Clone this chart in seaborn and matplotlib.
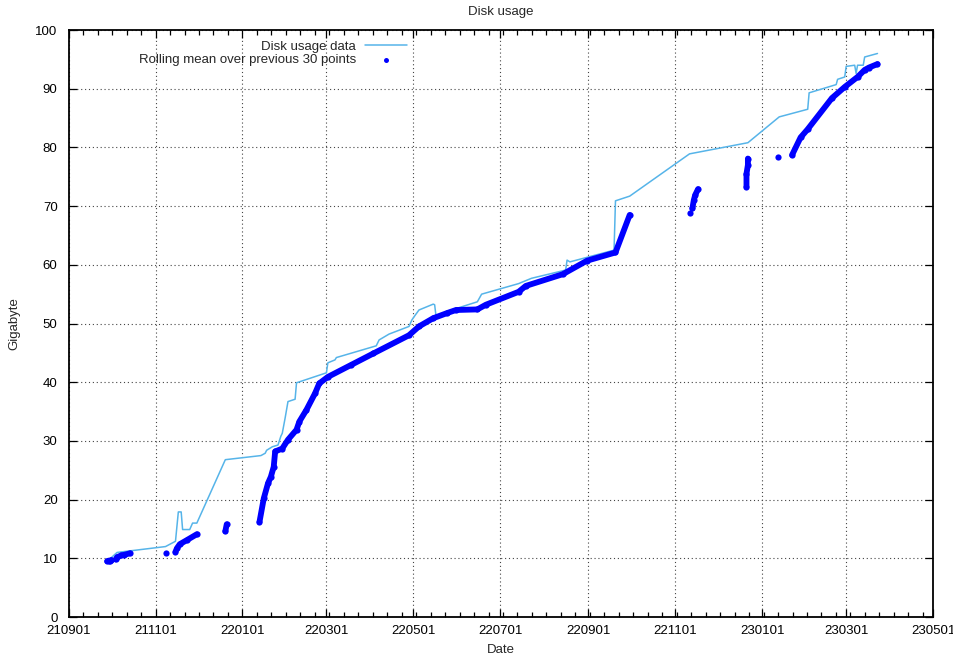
import pandas as pd
import matplotlib.pyplot as plt
import matplotlib.dates as mdates
from matplotlib.ticker import AutoMinorLocator, MultipleLocator
import seaborn as sns

# raw disk usage samples
disk_dates = ['2021-09-29', '2021-10-05', '2021-11-08', '2021-11-15', '2021-11-17', '2021-11-19',
              '2021-11-20', '2021-11-25', '2021-11-27', '2021-11-30', '2021-12-20', '2022-01-14',
              '2022-01-17', '2022-01-18', '2022-01-22', '2022-01-26', '2022-01-28', '2022-01-29',
              '2022-01-31', '2022-02-01', '2022-02-02', '2022-02-07', '2022-02-08', '2022-03-01',
              '2022-03-02', '2022-03-07', '2022-03-08', '2022-04-05', '2022-04-07', '2022-04-14',
              '2022-04-28', '2022-04-30', '2022-05-02', '2022-05-05', '2022-05-15', '2022-05-16',
              '2022-05-17', '2022-05-24', '2022-06-15', '2022-06-18', '2022-07-14', '2022-07-23',
              '2022-08-16', '2022-08-17', '2022-08-19', '2022-09-02', '2022-09-19', '2022-09-20',
              '2022-09-30', '2022-11-11', '2022-12-22', '2023-01-13', '2023-02-02', '2023-02-03',
              '2023-02-22', '2023-02-23', '2023-02-28', '2023-03-01', '2023-03-07', '2023-03-08',
              '2023-03-09', '2023-03-13', '2023-03-14', '2023-03-23']
disk_gb = [9.7, 11.0, 12.0, 12.9, 17.9, 17.9, 14.9, 14.9, 16.0, 16.0,
           26.8, 27.5, 27.9, 28.4, 29.0, 29.3, 30.8, 31.3, 33.9, 35.3,
           36.7, 37.1, 39.9, 41.6, 43.3, 43.8, 44.2, 46.2, 47.2, 48.2,
           49.5, 50.6, 51.3, 52.3, 53.3, 53.2, 51.2, 52.0, 53.7, 55.0,
           56.8, 57.7, 59.1, 60.8, 60.5, 61.4, 62.5, 70.9, 71.7, 78.9,
           80.8, 85.2, 86.5, 89.3, 90.7, 91.6, 92.0, 93.8, 94.0, 92.6,
           94.0, 94.0, 95.4, 96.0]

# rolling mean, split into the runs visible on the chart
roll_dates = ['2021-09-28', '2021-09-29', '2021-09-30', '2021-10-01',
              '2021-10-04', '2021-10-05', '2021-10-08', '2021-10-10', '2021-10-14',
              '2021-11-08',
              '2021-11-15', '2021-11-16', '2021-11-18', '2021-11-23', '2021-11-30',
              '2021-12-20', '2021-12-21',
              '2022-01-13', '2022-01-16', '2022-01-19', '2022-01-21', '2022-01-23', '2022-01-24',
              '2022-01-29', '2022-02-02', '2022-02-08', '2022-02-10', '2022-02-15', '2022-02-21',
              '2022-02-24', '2022-03-02', '2022-03-18', '2022-04-03', '2022-04-28', '2022-05-05',
              '2022-05-15', '2022-05-25', '2022-05-31', '2022-06-15', '2022-06-21', '2022-07-14',
              '2022-07-19', '2022-08-14', '2022-08-31', '2022-09-20', '2022-09-30',
              '2022-11-11',
              '2022-11-13', '2022-11-14', '2022-11-15', '2022-11-17',
              '2022-12-21', '2022-12-21', '2022-12-22', '2022-12-22',
              '2023-01-12',
              '2023-01-22', '2023-01-28', '2023-02-02', '2023-02-19', '2023-02-28', '2023-03-09',
              '2023-03-14', '2023-03-17', '2023-03-23']
roll_gb = [9.5, 9.6, 9.6, 9.7,
           9.8, 10.2, 10.5, 10.6, 10.85,
           10.85,
           11.1, 11.7, 12.4, 13.1, 14.1,
           14.6, 15.8,
           16.2, 20.2, 22.8, 23.9, 25.6, 28.2,
           28.7, 30.2, 31.9, 33.3, 35.3, 38.1,
           39.8, 40.9, 42.9, 44.9, 48.0, 49.5,
           50.9, 51.8, 52.3, 52.4, 53.2, 55.4,
           56.4, 58.4, 60.7, 62.1, 68.5,
           68.9,
           69.6, 71.0, 71.9, 72.9,
           73.3, 75.5, 77.0, 78.1,
           78.3,
           78.7, 81.7, 83.1, 88.4, 90.3, 92.0,
           93.2, 93.6, 94.2]
roll_seg = [0] * 4 + [1] * 5 + [2] + [3] * 5 + [4] * 2 + [5] * 29 + [6] + [7] * 4 + [8] * 4 + [9] + [10] * 9

disk = pd.DataFrame({'date': pd.to_datetime(disk_dates), 'gb': disk_gb})
roll = pd.DataFrame({'date': pd.to_datetime(roll_dates), 'gb': roll_gb, 'seg': roll_seg})

sns.set_style('ticks')
plt.rcParams['font.family'] = ['Liberation Sans', 'DejaVu Sans']
plt.rcParams['font.size'] = 9.5

fig = plt.figure(figsize=(9.54, 6.58), dpi=100)
ax = fig.add_axes([0.072, 0.0623, 0.906, 0.8921])

sns.lineplot(data=disk, x='date', y='gb', color='#56b4e9', lw=1.1, estimator=None, sort=False,
             label='Disk usage data', ax=ax)
sns.lineplot(data=roll, x='date', y='gb', units='seg', estimator=None, sort=False,
             color='#0000ff', lw=4.2, legend=False, ax=ax,
             solid_capstyle='round', solid_joinstyle='round')
sns.scatterplot(data=roll, x='date', y='gb', color='#0000ff', s=20, linewidth=0,
                label='Rolling mean over previous 30 points', ax=ax, zorder=3)

ax.set_xlim(pd.Timestamp('2021-09-01'), pd.Timestamp('2023-05-01'))
ax.set_ylim(0, 100)
ax.xaxis.set_major_locator(mdates.MonthLocator(bymonth=[1, 3, 5, 7, 9, 11]))
ax.xaxis.set_major_formatter(mdates.DateFormatter('%y%m%d'))
ax.xaxis.set_minor_locator(AutoMinorLocator(6))
ax.yaxis.set_major_locator(MultipleLocator(10))

ax.tick_params(which='both', direction='in', top=True, right=True, colors='black', labelsize=9.5)
ax.tick_params(which='major', length=6, width=0.9)
ax.tick_params(which='minor', length=3.5, width=0.9)
ax.tick_params(axis='x', pad=6)
ax.tick_params(axis='y', pad=8)
for s in ax.spines.values():
    s.set_visible(True)
    s.set_color('black')
    s.set_linewidth(1.3)

ax.grid(True, which='major', color='#444444', linestyle=(0, (1, 2.5)), lw=0.8)
ax.set_axisbelow(True)

ax.set_title('Disk usage', fontsize=9.5, pad=11)
ax.set_xlabel('Date', fontsize=9.5, labelpad=5)
ax.set_ylabel('Gigabyte', fontsize=9.5, labelpad=11)

ax.legend(loc='upper right', bbox_to_anchor=(414 / 954, 1 - 34 / 658),
          bbox_transform=fig.transFigure, frameon=False, markerfirst=False,
          borderpad=0, handlelength=3.2, handletextpad=0.7, labelspacing=0.1,
          fontsize=9.5, markerscale=0.8)

fig.savefig('out.png', dpi=100)
